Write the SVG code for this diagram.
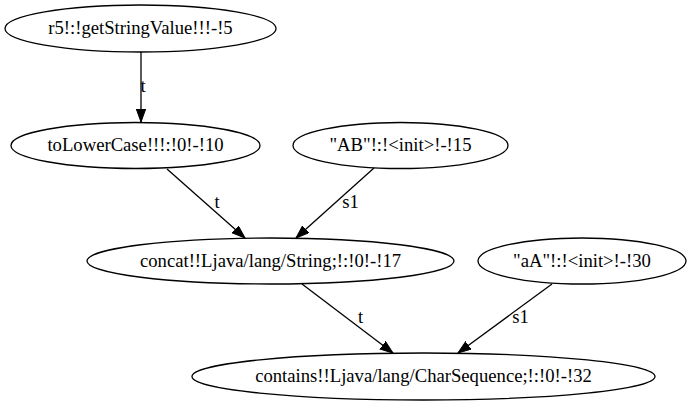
<svg xmlns="http://www.w3.org/2000/svg" width="691" height="407" viewBox="0 0 691 407">
<style>
.n ellipse{fill:none;stroke:#000;stroke-width:1.3}
text{font-family:"Liberation Serif","Times New Roman",serif;font-size:18.67px;fill:#000;text-anchor:middle}
.e line{stroke:#000;stroke-width:1.3}
</style>
<defs>
<marker id="ah" markerUnits="userSpaceOnUse" markerWidth="15" markerHeight="12" refX="13" refY="4.7" orient="auto">
<path d="M0,0 L13,4.7 L0,9.4 z" fill="#000" stroke="#000" stroke-width="1"/>
</marker>
</defs>
<rect width="691" height="407" fill="#fff"/>
<g id="edges" class="e">
<line x1="141" y1="52" x2="141" y2="122" marker-end="url(#ah)"/>
<text x="143" y="92">t</text>
<line x1="167" y1="169" x2="245" y2="238" marker-end="url(#ah)"/>
<text x="217" y="208">t</text>
<line x1="374" y1="168" x2="296" y2="238" marker-end="url(#ah)"/>
<text x="350.5" y="208">s1</text>
<line x1="302" y1="284" x2="393" y2="353" marker-end="url(#ah)"/>
<text x="360.5" y="323">t</text>
<line x1="552" y1="284" x2="458" y2="353" marker-end="url(#ah)"/>
<text x="520.5" y="323">s1</text>
</g>
<g id="n5" class="n"><ellipse cx="140.5" cy="28.5" rx="135.5" ry="23.5"/><text x="140.5" y="34">r5!:!getStringValue!!!-!5</text></g>
<g id="n10" class="n"><ellipse cx="135.5" cy="145.5" rx="124.5" ry="23"/><text x="135.5" y="151">toLowerCase!!!:!0!-!10</text></g>
<g id="n15" class="n"><ellipse cx="400.5" cy="145.5" rx="107.5" ry="23"/><text x="400.5" y="151">"AB"!:!&lt;init&gt;!-!15</text></g>
<g id="n17" class="n"><ellipse cx="270.5" cy="261" rx="183.5" ry="23"/><text x="270.5" y="266.5">concat!!Ljava/lang/String;!:!0!-!17</text></g>
<g id="n30" class="n"><ellipse cx="582" cy="261" rx="104" ry="23"/><text x="582" y="266.5">"aA"!:!&lt;init&gt;!-!30</text></g>
<g id="n32" class="n"><ellipse cx="423.5" cy="376.5" rx="231.5" ry="23.5"/><text x="423.5" y="382">contains!!Ljava/lang/CharSequence;!:!0!-!32</text></g>
</svg>
